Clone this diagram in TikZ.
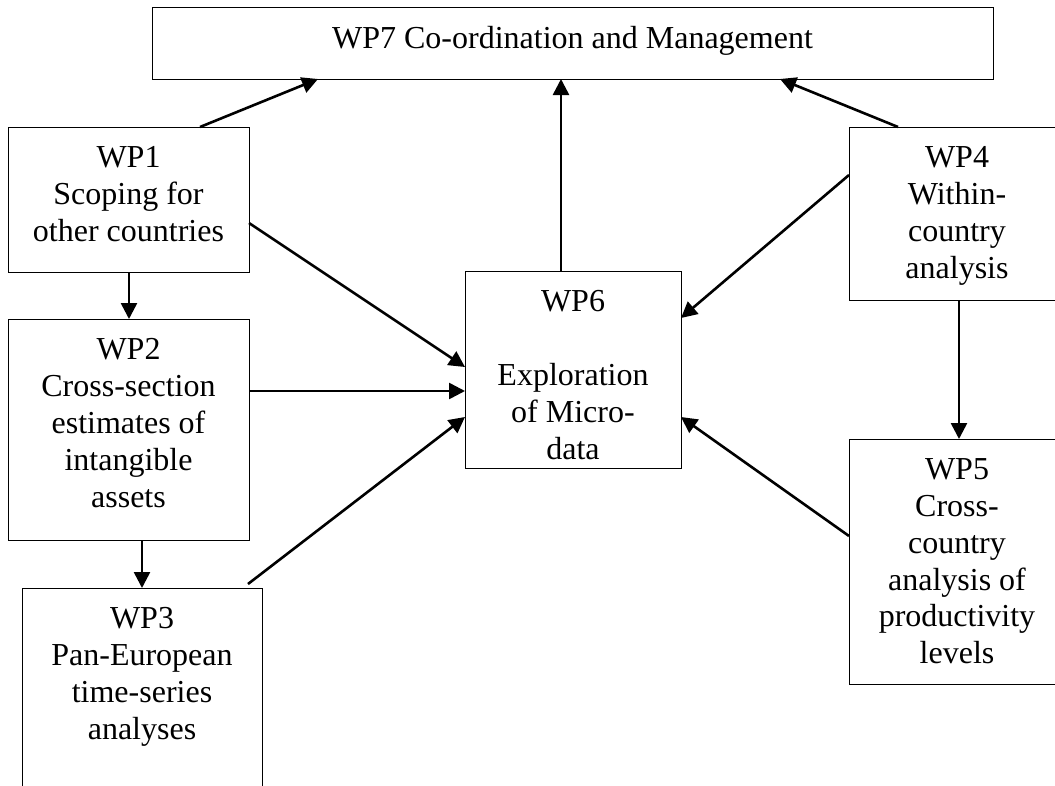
\documentclass[tikz,border=0pt]{standalone}
\usepackage{fontspec}
\setmainfont{Liberation Serif}
\usetikzlibrary{arrows.meta,calc}
\tikzset{
  wpbox/.style={draw, line width=1pt, inner sep=0pt, outer sep=0pt, fill=none},
  wptext/.style={anchor=north, align=center, inner xsep=0pt, inner ysep=19.5pt,
    font=\fontsize{32}{36.8}\selectfont},
  link/.style={line width=2.6pt, -{Triangle[length=16pt,width=16pt]}}
}
\begin{document}
\begin{tikzpicture}[x=1pt,y=-1pt]
\useasboundingbox (0,0) rectangle (1055,785);
\clip (0,0) rectangle (1055,785);
\fill[white] (0,0) rectangle (1055,785);
% boxes
\node[wpbox, minimum width=841pt, minimum height=72pt] (wp7) at (572.5,43) {};
\node[wpbox, minimum width=241pt, minimum height=145pt] (wp1) at (128.5,199.5) {};
\node[wpbox, minimum width=241pt, minimum height=221pt] (wp2) at (128.5,429.5) {};
\node[wpbox, minimum width=240pt, minimum height=220pt] (wp3) at (142,698) {};
\node[wpbox, minimum width=216pt, minimum height=197pt] (wp6) at (573,369.5) {};
\node[wpbox, minimum width=216pt, minimum height=173pt] (wp4) at (957,213.5) {};
\node[wpbox, minimum width=216pt, minimum height=245pt] (wp5) at (957,561.5) {};
% texts
\node[wptext] (wp7t) at (wp7.north) {WP7 Co-ordination and Management};
\node[wptext] (wp1t) at (wp1.north) {WP1\\Scoping for\\other countries};
\node[wptext] (wp2t) at (wp2.north) {WP2\\Cross-section\\estimates of\\intangible\\assets};
\node[wptext] (wp3t) at (wp3.north) {WP3\\Pan-European\\time-series\\analyses};
\node[wptext] (wp6t) at (wp6.north) {WP6\\\mbox{}\\Exploration\\of Micro-\\data};
\node[wptext] (wp4t) at (wp4.north) {WP4\\Within-\\country\\analysis};
\node[wptext] (wp5t) at (wp5.north) {WP5\\Cross-\\country\\analysis of\\productivity\\levels};
% connectors to WP7
\draw[link] ($(wp1.north west)+(192,0)$) -- ($(wp7.south west)+(166,0)$);
\draw[link] ($(wp6.north west)+(96,0)$) -- ($(wp7.south west)+(409,0)$);
\draw[link] ($(wp4.north west)+(49,0)$) -- ($(wp7.south west)+(628,0)$);
% connectors to WP6
\draw[link] ($(wp1.north east)+(0,96)$) -- ($(wp6.north west)+(0,96)$);
\draw[link] ($(wp2.north east)+(0,72)$) -- ($(wp6.north west)+(0,120)$);
\draw[link] ($(wp3.north east)+(-14,-4)$) -- ($(wp6.north west)+(0,146)$);
\draw[link] ($(wp4.north west)+(0,48)$) -- ($(wp6.north east)+(0,47)$);
\draw[link] ($(wp5.north west)+(0,97)$) -- ($(wp6.north east)+(0,146)$);
% vertical connectors
\draw[link] ($(wp1.south west)+(121,0)$) -- ($(wp2.north west)+(121,0)$);
\draw[link] ($(wp2.south west)+(134,0)$) -- (wp3.north);
\draw[link] ($(wp4.south west)+(110,0)$) -- ($(wp5.north west)+(110,0)$);
\end{tikzpicture}
\end{document}
